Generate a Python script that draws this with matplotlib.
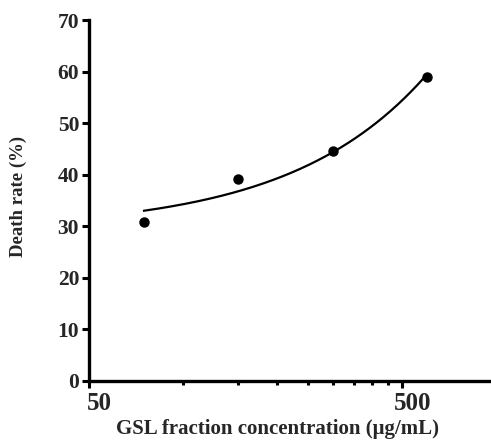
import numpy as np
import matplotlib.pyplot as plt
import matplotlib.transforms as mtransforms
from matplotlib.ticker import FixedLocator, NullFormatter

# data
conc = [75, 150, 300, 600]
death_rate = [30.8, 39.2, 44.6, 59.0]

x_major = [50, 500]
x_minor = [100, 150, 200, 250, 300, 350, 400, 450]
y_ticks = [0, 10, 20, 30, 40, 50, 60, 70]

plt.rcParams['font.family'] = ['Liberation Serif', 'DejaVu Serif']
plt.rcParams['font.weight'] = 'bold'
text_col = '#262626'

fig = plt.figure(figsize=(4.91, 4.46), dpi=100)
ax = fig.add_axes([0.181, 0.146, 0.83, 0.809])

# linear fit through the points
b, a = np.polyfit(conc, death_rate, 1)
xs = np.linspace(conc[0], conc[-1], 200)
ax.plot(xs, a + b * xs, color='black', lw=1.6)
ax.plot(conc, death_rate, 'o', color='black', ms=6.5)

ax.set_xscale('log')
ax.set_xlim(50, 1000)
ax.set_ylim(0, 70)
ax.xaxis.set_major_locator(FixedLocator(x_major))
ax.xaxis.set_minor_locator(FixedLocator(x_minor))
ax.xaxis.set_minor_formatter(NullFormatter())
ax.set_xticklabels([str(v) for v in x_major])
ax.set_yticks(y_ticks)

for s in ['top', 'right']:
    ax.spines[s].set_visible(False)
for s in ['left', 'bottom']:
    ax.spines[s].set_linewidth(2.4)
    ax.spines[s].set_color('black')

ax.tick_params(axis='y', which='major', length=5, width=2.2, labelsize=15.5,
               labelcolor=text_col, pad=2)
ax.tick_params(axis='x', which='major', length=5, width=2.2, labelsize=18,
               labelcolor=text_col, pad=3)
ax.tick_params(axis='x', which='minor', length=3, width=2.2)

offset = mtransforms.ScaledTranslation(11 / 100, 0, fig.dpi_scale_trans)
for lab in ax.get_xticklabels():
    lab.set_transform(lab.get_transform() + offset)
    lab.set_fontweight('bold')
for lab in ax.get_yticklabels():
    lab.set_fontweight('bold')

ax.set_xlabel('GSL fraction concentration (μg/mL)', fontsize=15, fontweight='bold',
              color=text_col, labelpad=2)
ax.xaxis.set_label_coords(0.462, -0.105)
ax.set_ylabel('Death rate (%)', fontsize=13.5, fontweight='bold', color=text_col)
ax.yaxis.set_label_coords(-0.152, 0.51)

fig.savefig('out.png', dpi=100)
